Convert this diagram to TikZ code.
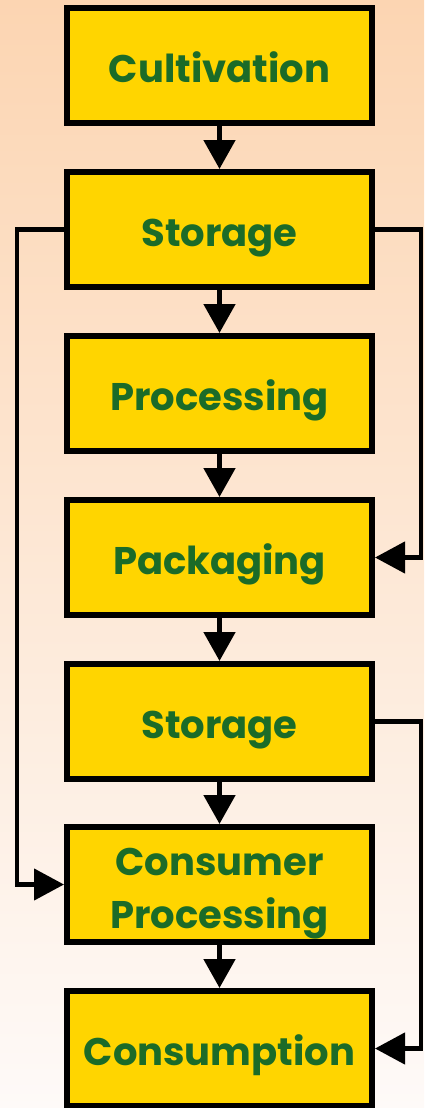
\documentclass[tikz,border=0pt]{standalone}
\usepackage{fontspec}
\usetikzlibrary{arrows.meta}
\newfontfamily\lblfont{Poppins}
\definecolor{boxfill}{RGB}{255,213,0}
\definecolor{txtgreen}{RGB}{27,107,40}
\definecolor{bgtop}{RGB}{252,213,178}
\definecolor{bgbot}{RGB}{254,250,248}
\tikzset{
  stagebox/.style={draw=black, line width=6pt, fill=boxfill, minimum width=305pt, minimum height=115pt,
    inner sep=0pt, align=center, text=txtgreen, text height=44pt, text depth=10pt,
    font=\lblfont\bfseries\fontsize{38.5}{53}\selectfont},
  twoline/.style={text height=97pt, text depth=10pt},
  downarrow/.style={line width=5pt, -{Triangle[length=29pt,width=31pt]}},
  sidearrow/.style={line width=4.5pt, -{Triangle[length=30pt,width=31pt]}}
}
\begin{document}
\begin{tikzpicture}[x=1pt,y=-1pt]
\useasboundingbox (0,0) rectangle (424,1108);
\shade[top color=bgtop, bottom color=bgbot] (0,0) rectangle (424,1108);
\node[stagebox] (cult) at (219.5,65.5) {Cultivation};
\node[stagebox] (stor1) at (219.5,229.5) {Storage};
\node[stagebox] (proc) at (219.5,393.5) {Processing};
\node[stagebox] (pack) at (219.5,557.5) {Packaging};
\node[stagebox] (stor2) at (219.5,721.5) {Storage};
\node[stagebox, twoline] (cproc) at (219.5,884.5) {Consumer\\Processing};
\node[stagebox] (cons) at (219.5,1048.5) {Consumption};
\draw[downarrow] (cult) -- (stor1);
\draw[downarrow] (stor1) -- (proc);
\draw[downarrow] (proc) -- (pack);
\draw[downarrow] (pack) -- (stor2);
\draw[downarrow] (stor2) -- (cproc);
\draw[downarrow] (cproc) -- (cons);
\draw[sidearrow] (stor1.west) -- ++(-47,0) |- (cproc.west);
\draw[sidearrow] (stor1.east) -- ++(46,0) |- (pack.east);
\draw[sidearrow] (stor2.east) -- ++(46,0) |- (cons.east);
\end{tikzpicture}
\end{document}
